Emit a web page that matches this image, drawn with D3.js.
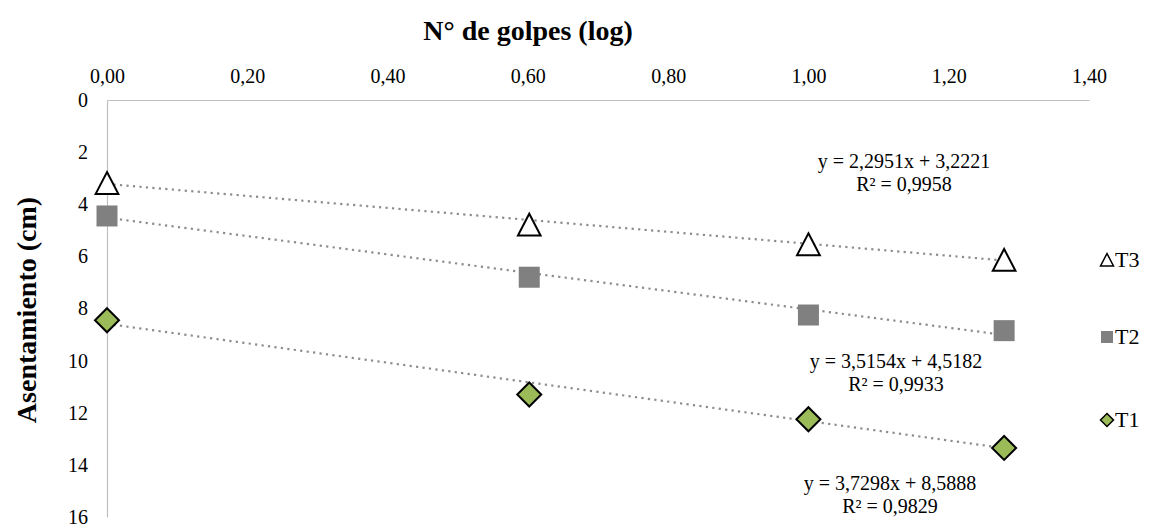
<!DOCTYPE html>
<html><head><meta charset="utf-8">
<script src="https://cdn.jsdelivr.net/npm/d3@7"></script>
<style>body{margin:0;background:#fff;} svg, svg text{font-family:'Liberation Serif','Times New Roman',serif !important;}</style>
</head><body>
<svg id="c" width="1160" height="527"></svg>
<script>
const xTicks = [0, 0.2, 0.4, 0.6, 0.8, 1.0, 1.2, 1.4];
const yTicks = [0, 2, 4, 6, 8, 10, 12, 14, 16];
const xValues = [0, 0.602, 1.0, 1.279];
const seriesNames = ["T3", "T2", "T1"];
const t3Values = [3.2, 4.8, 5.55, 6.15];
const t2Values = [4.45, 6.8, 8.25, 8.85];
const t1Values = [8.45, 11.3, 12.25, 13.35];
const slopes = [2.2951, 3.5154, 3.7298];
const intercepts = [3.2221, 4.5182, 8.5888];
const r2 = ["0,9958", "0,9933", "0,9829"];
const eqText = ["y = 2,2951x + 3,2221", "y = 3,5154x + 4,5182", "y = 3,7298x + 8,5888"];
const xTitle = "N° de golpes (log)";
const yTitle = "Asentamiento (cm)";

const FF = "'Liberation Serif','Times New Roman',serif";
const svg = d3.select("#c");
const x = d3.scaleLinear().domain([0, 1.4]).range([107, 1089]);
const y = d3.scaleLinear().domain([0, 16]).range([100, 517]);
const fmt = d => d3.format(".2f")(d).replace(".", ",");

// axes
const xAxis = svg.append("g").attr("transform", `translate(0,${y(0)})`)
  .call(d3.axisTop(x).tickValues(xTicks).tickSize(0).tickPadding(17).tickFormat(fmt));
xAxis.attr("font-family", FF);
xAxis.select(".domain").attr("stroke", "#bfbfbf").attr("stroke-width", 1.2);
xAxis.selectAll("text").attr("font-size", 20).attr("fill", "#000").style("font-family", FF);

const yAxis = svg.append("g").attr("transform", `translate(${x(0)},0)`)
  .call(d3.axisLeft(y).tickValues(yTicks).tickSize(0).tickPadding(19).tickFormat(d3.format("d")));
yAxis.attr("font-family", FF);
yAxis.select(".domain").attr("stroke", "#bfbfbf").attr("stroke-width", 1.2);
yAxis.selectAll("text").attr("font-size", 20).attr("fill", "#000").style("font-family", FF);

// titles
svg.append("text").attr("x", 528).attr("y", 40).attr("text-anchor", "middle")
  .attr("font-weight", "bold").attr("font-size", 28).style("font-family", FF).text(xTitle);
svg.append("text").attr("transform", "translate(36,310) rotate(-90)").attr("text-anchor", "middle")
  .attr("font-weight", "bold").attr("font-size", 28).style("font-family", FF).text(yTitle);

const data = [t3Values, t2Values, t1Values];
const xEnd = xValues[xValues.length - 1];

// trendlines
data.forEach((vals, i) => {
  svg.append("line")
    .attr("x1", x(0)).attr("y1", y(intercepts[i]))
    .attr("x2", x(xEnd)).attr("y2", y(intercepts[i] + slopes[i] * xEnd))
    .attr("stroke", "#8c8c8c").attr("stroke-width", 2.2).attr("stroke-dasharray", "2.2,4.3");
});

const diam = (s) => `M0,${-s}L${s},0L0,${s}L${-s},0Z`;

function drawMarker(g, i, cx, cy, big) {
  if (i === 0) {
    const s = big ? 10.5 : 6;
    g.append("path").attr("d", `M${cx},${cy - s * 1.08}L${cx + s * 1.08},${cy + s}L${cx - s * 1.08},${cy + s}Z`)
      .attr("fill", "#fff").attr("stroke", "#000").attr("stroke-width", big ? 2 : 1.5);
  } else if (i === 1) {
    const s = big ? 10.5 : 6;
    g.append("rect").attr("x", cx - s).attr("y", cy - s).attr("width", 2 * s).attr("height", 2 * s)
      .attr("fill", "#808080");
  } else {
    const s = big ? 12 : 6.5;
    g.append("path").attr("transform", `translate(${cx},${cy})`).attr("d", diam(s))
      .attr("fill", "#9bbb59").attr("stroke", "#000").attr("stroke-width", big ? 2 : 1.5);
  }
}

const mg = svg.append("g");
data.forEach((vals, i) => {
  vals.forEach((v, j) => drawMarker(mg, i, x(xValues[j]), y(v), true));
});

// equations
const eqPos = [[904, 168], [896, 368], [890, 490]];
data.forEach((vals, i) => {
  const t = svg.append("text").attr("text-anchor", "middle").attr("font-size", 20).style("font-family", FF);
  t.append("tspan").attr("x", eqPos[i][0]).attr("y", eqPos[i][1]).text(eqText[i]);
  t.append("tspan").attr("x", eqPos[i][0]).attr("y", eqPos[i][1] + 23).text("R² = " + r2[i]);
});

// legend
const legY = [260, 337, 420];
seriesNames.forEach((n, i) => {
  drawMarker(svg, i, 1107, legY[i], false);
  svg.append("text").attr("x", 1115).attr("y", legY[i] + 7).attr("font-size", 22).style("font-family", FF).text(n);
});
</script>
</body></html>
